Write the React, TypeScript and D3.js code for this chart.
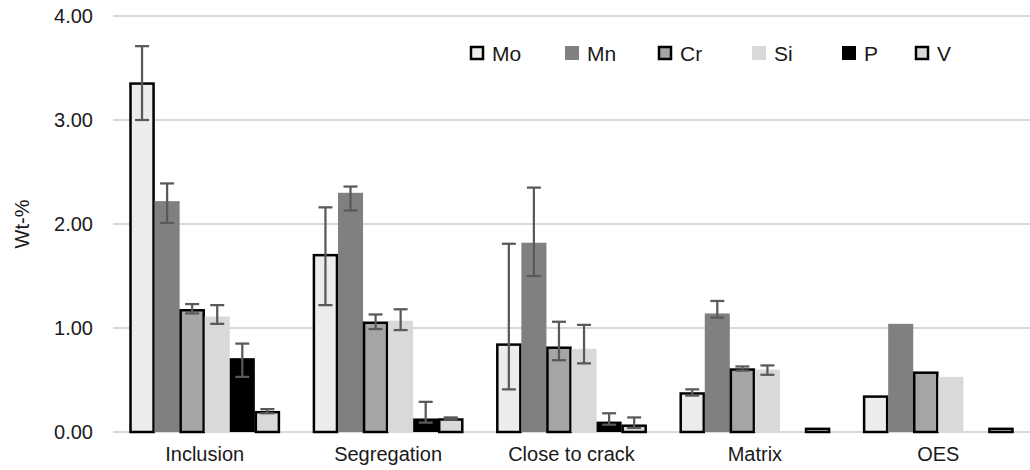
import React, { useEffect, useRef } from 'react';
import * as d3 from 'd3';

const categories = ['Inclusion', 'Segregation', 'Close to crack', 'Matrix', 'OES'];
const elements = ['Mo', 'Mn', 'Cr', 'Si', 'P', 'V'];

// mean values per element, one per category
const moValues = [3.36, 1.71, 0.85, 0.38, 0.35];
const mnValues = [2.22, 2.30, 1.82, 1.14, 1.04];
const crValues = [1.18, 1.06, 0.82, 0.61, 0.58];
const siValues = [1.11, 1.07, 0.80, 0.60, 0.53];
const pValues = [0.71, 0.13, 0.10, 0, 0];
const vValues = [0.20, 0.13, 0.07, 0.04, 0.04];

// error bars (plus / minus), asymmetric as in the source figure
const moPlus = [0.35, 0.45, 0.96, 0.03, 0];
const moMinus = [0.36, 0.49, 0.44, 0.03, 0];
const mnPlus = [0.17, 0.06, 0.53, 0.12, 0];
const mnMinus = [0.21, 0.17, 0.32, 0.04, 0];
const crPlus = [0.05, 0.07, 0.24, 0.02, 0];
const crMinus = [0.04, 0.07, 0.13, 0.02, 0];
const siPlus = [0.11, 0.11, 0.23, 0.04, 0];
const siMinus = [0.07, 0.09, 0.14, 0.05, 0];
const pPlus = [0.14, 0.16, 0.08, 0, 0];
const pMinus = [0.18, 0.04, 0.03, 0, 0];
const vPlus = [0.02, 0.01, 0.07, 0, 0];
const vMinus = [0.02, 0.01, 0.03, 0, 0];

const yTicks = [0, 1, 2, 3, 4];

const seriesValues = [moValues, mnValues, crValues, siValues, pValues, vValues];
const seriesPlus = [moPlus, mnPlus, crPlus, siPlus, pPlus, vPlus];
const seriesMinus = [moMinus, mnMinus, crMinus, siMinus, pMinus, vMinus];

// fill / outline per element
const fills = ['#ececec', '#808080', '#a5a5a5', '#d9d9d9', '#000000', '#d9d9d9'];
const outlined = [true, false, true, false, false, true];

export default function App() {
  const ref = useRef<HTMLDivElement>(null);

  useEffect(() => {
    const width = 1030;
    const height = 470;
    const margin = { top: 16, right: 0, bottom: 38, left: 113 };
    const font = 'Liberation Sans, Arial, sans-serif';
    const textColor = '#1a1a1a';

    d3.select(ref.current).selectAll('*').remove();

    const svg = d3.select(ref.current)
      .append('svg')
      .attr('width', width)
      .attr('height', height)
      .style('position', 'absolute')
      .style('left', '0px')
      .style('top', '0px')
      .style('font-family', font);

    svg.append('rect').attr('width', width).attr('height', height).attr('fill', '#fff');

    const x0 = d3.scaleBand()
      .domain(categories)
      .range([margin.left, width - margin.right])
      .paddingInner(0.18)
      .paddingOuter(0.09);

    const x1 = d3.scaleBand()
      .domain(elements)
      .range([0, x0.bandwidth()])
      .padding(0);

    const y = d3.scaleLinear()
      .domain([0, 4])
      .range([height - margin.bottom, margin.top]);

    // gridlines
    svg.append('g')
      .selectAll('line')
      .data(yTicks)
      .enter()
      .append('line')
      .attr('x1', margin.left)
      .attr('x2', width - margin.right)
      .attr('y1', d => y(d))
      .attr('y2', d => y(d))
      .attr('stroke', '#d9d9d9')
      .attr('stroke-width', 2);

    // y tick labels
    svg.append('g')
      .selectAll('text')
      .data(yTicks)
      .enter()
      .append('text')
      .attr('x', 93)
      .attr('y', d => y(d))
      .attr('dy', '0.35em')
      .attr('text-anchor', 'end')
      .attr('font-size', 20)
      .attr('fill', textColor)
      .text(d => d3.format('.2f')(d));

    // y axis title
    svg.append('text')
      .attr('transform', `translate(29,${y(2)}) rotate(-90)`)
      .attr('text-anchor', 'middle')
      .attr('font-size', 20)
      .attr('fill', textColor)
      .text('Wt-%');

    // bars
    const groups = svg.append('g')
      .selectAll('g')
      .data(categories)
      .enter()
      .append('g')
      .attr('transform', d => `translate(${x0(d)},0)`);

    elements.forEach((el, si) => {
      groups.append('rect')
        .attr('x', () => x1(el)! + (outlined[si] ? 1 : 0))
        .attr('y', (_, ci) => y(seriesValues[si][ci]) + (outlined[si] ? 1 : 0))
        .attr('width', x1.bandwidth() - (outlined[si] ? 2 : 0))
        .attr('height', (_, ci) => Math.max(0, y(0) - y(seriesValues[si][ci]) - (outlined[si] ? 1 : 0)))
        .attr('fill', fills[si])
        .attr('stroke', outlined[si] ? '#000' : 'none')
        .attr('stroke-width', outlined[si] ? 2.5 : 0)
        .attr('display', (_, ci) => (seriesValues[si][ci] > 0 ? null : 'none'));
    });

    // error bars
    elements.forEach((el, si) => {
      const cx = x1(el)! + x1.bandwidth() / 2;
      const eb = groups.append('g')
        .attr('display', (_, ci) => (seriesPlus[si][ci] + seriesMinus[si][ci] > 0 ? null : 'none'))
        .attr('stroke', '#595959')
        .attr('stroke-width', 2.25);
      eb.append('line')
        .attr('x1', cx).attr('x2', cx)
        .attr('y1', (_, ci) => y(seriesValues[si][ci] + seriesPlus[si][ci]))
        .attr('y2', (_, ci) => y(seriesValues[si][ci] - seriesMinus[si][ci]));
      eb.append('line')
        .attr('x1', cx - 7).attr('x2', cx + 7)
        .attr('y1', (_, ci) => y(seriesValues[si][ci] + seriesPlus[si][ci]))
        .attr('y2', (_, ci) => y(seriesValues[si][ci] + seriesPlus[si][ci]));
      eb.append('line')
        .attr('x1', cx - 7).attr('x2', cx + 7)
        .attr('y1', (_, ci) => y(seriesValues[si][ci] - seriesMinus[si][ci]))
        .attr('y2', (_, ci) => y(seriesValues[si][ci] - seriesMinus[si][ci]));
    });

    // category labels
    svg.append('g')
      .selectAll('text')
      .data(categories)
      .enter()
      .append('text')
      .attr('x', d => x0(d)! + x0.bandwidth() / 2)
      .attr('y', 461)
      .attr('text-anchor', 'middle')
      .attr('font-size', 20)
      .attr('fill', textColor)
      .text(d => d);

    // legend
    const legendX = [470, 565, 658, 752, 842, 915];
    const legend = svg.append('g')
      .selectAll('g')
      .data(elements)
      .enter()
      .append('g')
      .attr('transform', (_, i) => `translate(${legendX[i]},46)`);
    legend.append('rect')
      .attr('x', (_, i) => (outlined[i] ? 1 : 0))
      .attr('y', (_, i) => (outlined[i] ? 1 : 0))
      .attr('width', (_, i) => (outlined[i] ? 12 : 14))
      .attr('height', (_, i) => (outlined[i] ? 12 : 14))
      .attr('fill', (_, i) => fills[i])
      .attr('stroke', (_, i) => (outlined[i] ? '#000' : 'none'))
      .attr('stroke-width', 2.5);
    legend.append('text')
      .attr('x', 22)
      .attr('y', 7)
      .attr('dy', '0.36em')
      .attr('font-size', 21)
      .attr('fill', textColor)
      .text(d => d);
  }, []);

  return <div ref={ref} />;
}
